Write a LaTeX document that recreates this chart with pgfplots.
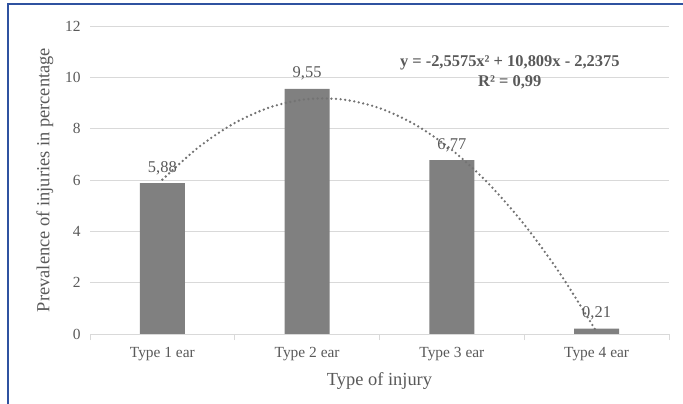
\documentclass[border=0pt]{standalone}
\usepackage{pgfplots}
\pgfplotsset{compat=1.18}
\usepackage{fontspec}
\setmainfont{Liberation Serif}
\definecolor{txt}{RGB}{89,89,89}
\definecolor{barc}{RGB}{128,128,128}
\definecolor{gridc}{RGB}{217,217,217}
\definecolor{framec}{RGB}{47,82,160}

\begin{document}
\begin{tikzpicture}
\path[use as bounding box] (-90bp,-70bp) rectangle (593bp,334bp);
\draw[framec, line width=2.4bp] (-82bp,-71bp) -- (-82bp,330bp) -- (594bp,330bp);
\begin{axis}[
    scale only axis,
    width=579bp, height=308bp,
    xmin=0.5, xmax=4.5,
    ymin=0, ymax=12,
    ytick={0,2,...,12},
    xtick={1,2,3,4},
    xticklabels={Type 1 ear, Type 2 ear, Type 3 ear, Type 4 ear},
    minor xtick={0.5,1.5,...,4.5},
    axis x line=bottom,
    axis y line=left,
    x axis line style={-, draw=gridc, line width=0.9bp},
    y axis line style={draw=none},
    ytick style={draw=none},
    xtick style={draw=gridc, line width=0.9bp},
    tick align=outside,
    major tick length=0pt,
    minor tick length=6bp,
    ymajorgrids,
    grid style={gridc, line width=0.9bp},
    ticklabel style={font=\fontsize{15.5}{18}\selectfont, text=txt},
    /pgf/number format/assume math mode=true,
    xticklabel style={yshift=-10bp},
    yticklabel style={xshift=-6bp},
    xlabel={Type of injury},
    ylabel={Prevalence of injuries in percentage},
    label style={font=\fontsize{18.5}{21}\selectfont, text=txt},
    xlabel style={at={(axis description cs:0.5,-0.153)}, anchor=center},
    ylabel style={at={(axis description cs:-0.078,0.5)}, anchor=center},
]
\addplot[ybar, bar width=45bp, fill=barc, draw=none,
    nodes near coords, point meta=explicit symbolic,
    nodes near coords style={text=txt, font=\fontsize{16.5}{18}\selectfont, anchor=south, yshift=5bp}]
    table[meta=label] {
x y label
1 5.88 5,88
2 9.55 9,55
3 6.77 6,77
4 0.21 0,21
};
% polynomial trendline, sampled
\addplot[smooth, color=barc!90!black, line width=2.6bp, line cap=round, dash pattern=on 0pt off 4.6bp]
    coordinates {
(1,6.014) (1.25,7.278) (1.5,8.222) (1.75,8.846) (2,9.151) (2.25,9.135)
(2.5,8.801) (2.75,8.146) (3,7.172) (3.25,5.878) (3.5,4.265) (3.75,2.331) (4,0.079)
};
\node[text=txt, font=\bfseries\fontsize{16.5}{20}\selectfont, align=center]
    at (axis cs:3.4,10.2) {y = -2,5575x² + 10,809x - 2,2375\\R² = 0,99};
\end{axis}
\end{tikzpicture}
\end{document}
